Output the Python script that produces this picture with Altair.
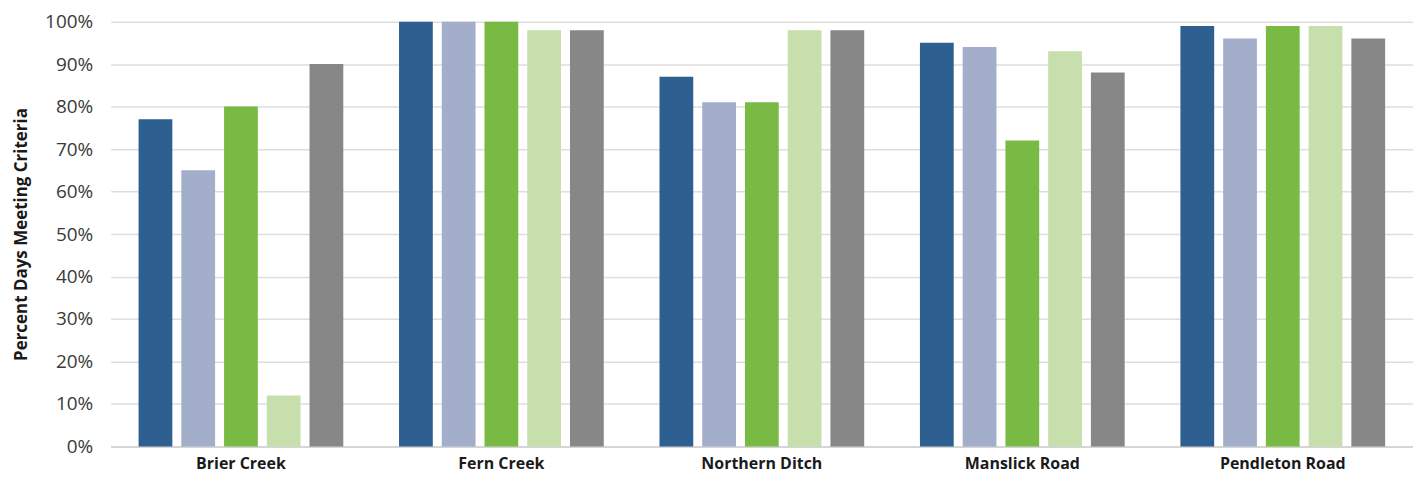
import altair as alt
import pandas as pd

sites = ["Brier Creek", "Fern Creek", "Northern Ditch", "Manslick Road", "Pendleton Road"]
series = ["Series 1", "Series 2", "Series 3", "Series 4", "Series 5"]
colors = ["#2E5F91", "#A3AECB", "#78BA43", "#C6DFAC", "#878787"]

s1 = [77, 100, 87, 95, 99]
s2 = [65, 100, 81, 94, 96]
s3 = [80, 100, 81, 72, 99]
s4 = [12, 98, 98, 93, 99]
s5 = [90, 98, 98, 88, 96]

rows = []
for name, vals in zip(series, [s1, s2, s3, s4, s5]):
    for site, v in zip(sites, vals):
        rows.append({"Site": site, "Series": name, "Value": v / 100})
df = pd.DataFrame(rows)

chart = alt.Chart(df).mark_bar().encode(
    x=alt.X("Site:N", sort=sites, title=None,
            scale=alt.Scale(paddingInner=0.214, paddingOuter=0.107),
            axis=alt.Axis(labelAngle=0, labelFont="Open Sans", labelFontSize=16, labelFontWeight="bold",
                          labelColor="#1a1a1a", ticks=False, domain=True, domainColor="#CFCFCF",
                          domainWidth=1.5, labelPadding=9, grid=False)),
    xOffset=alt.XOffset("Series:N", sort=series, scale=alt.Scale(paddingInner=0.21, paddingOuter=0)),
    y=alt.Y("Value:Q", title="Percent Days Meeting Criteria",
            scale=alt.Scale(domain=[0, 1], nice=False),
            axis=alt.Axis(format=".0%", values=[i / 10 for i in range(11)], labelFont="Open Sans",
                          labelFontSize=19, labelColor="#3a3a3a", ticks=False, domain=False,
                          labelPadding=18, gridColor="#DEDEDE", gridWidth=1.5,
                          titleFont="Open Sans", titleFontSize=17, titleFontWeight="bold",
                          titleColor="#1a1a1a", titlePadding=14)),
    color=alt.Color("Series:N", sort=series, scale=alt.Scale(domain=series, range=colors), legend=None),
).properties(
    width=1306, height=426, padding={"left": 4, "top": 4, "right": 0, "bottom": 6}
).configure_view(stroke=None)

chart.save("out.html", embed_options={"renderer": "svg", "actions": False})
